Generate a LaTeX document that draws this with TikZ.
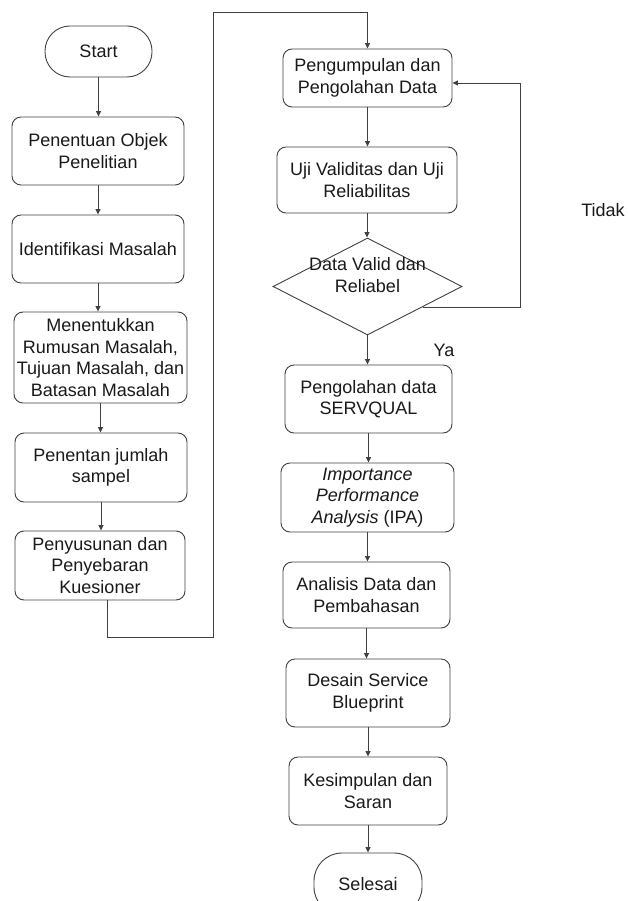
\documentclass[tikz,border=0pt]{standalone}
\usepackage{fontspec}
\setmainfont{Liberation Sans}
\usetikzlibrary{shapes.geometric,arrows.meta,calc}
\newcommand\flowfont{\fontsize{18}{21.5}\selectfont}
\begin{document}
\begin{tikzpicture}[x=1pt,y=-1pt,
  line/.style={draw=black!75, line width=0.9pt},
  arr/.style={line, -{Triangle[length=5.5pt,width=5pt]}},
  box/.style={line, rounded corners=9pt, align=center, inner sep=0pt, font=\flowfont, text=black!90},
  term/.style={box, rounded corners=25pt},
  lbl/.style={font=\flowfont, text=black!90, inner sep=0pt, align=center}]
\useasboundingbox (0,0) rectangle (627,901);
\clip (0,0) rectangle (627,901);
% left column
\node[term, minimum width=107pt, minimum height=51pt] (start) at (98.5,51.5) {Start};
\node[box, minimum width=172pt, minimum height=68pt] (b1) at (98,151) {Penentuan Objek\\Penelitian};
\node[box, minimum width=172pt, minimum height=68pt] (b2) at (98,249) {Identifikasi Masalah};
\node[box, minimum width=173pt, minimum height=91pt] (b3) at (100.5,357.5) {Menentukkan\\Rumusan Masalah,\\Tujuan Masalah, dan\\Batasan Masalah};
\node[box, minimum width=172pt, minimum height=69pt] (b4) at (101,467.5) {Penentan jumlah\\sampel};
\node[box, minimum width=170pt, minimum height=69pt] (b5) at (100,565.5) {Penyusunan dan\\Penyebaran\\Kuesioner};
% right column
\node[box, minimum width=169pt, minimum height=58pt] (r1) at (367.5,78) {Pengumpulan dan\\Pengolahan Data};
\node[box, minimum width=180pt, minimum height=66pt] (r2) at (367,180) {Uji Validitas dan Uji\\Reliabilitas};
\node[diamond, line, minimum width=189pt, minimum height=97pt, inner sep=0pt] (dia) at (367.5,286.5) {};
\node[lbl] (diatxt) at (367.5,275) {Data Valid dan\\Reliabel};
\node[box, minimum width=167pt, minimum height=68pt] (r3) at (368.5,399) {Pengolahan data\\SERVQUAL};
\node[box, minimum width=173pt, minimum height=69pt] (r4) at (367.5,497.5) {\textit{Importance}\\\textit{Performance}\\\textit{Analysis} (IPA)};
\node[box, minimum width=167pt, minimum height=66pt] (r5) at (366.5,595) {Analisis Data dan\\Pembahasan};
\node[box, minimum width=164pt, minimum height=68pt] (r6) at (368,693) {Desain Service\\Blueprint};
\node[box, minimum width=158pt, minimum height=68pt] (r7) at (368,791) {Kesimpulan dan\\Saran};
\node[term, rounded corners=28pt, minimum width=108pt, minimum height=62pt] (end) at (368,884) {\raisebox{-4pt}{Selesai}};
% labels
\node[lbl] (tidak) at (603,210) {Tidak};
\node[lbl] (ya) at (444,350) {Ya};
% left arrows
\draw[arr] (start.south) -- (start.south |- b1.north);
\draw[arr] (b1.south) -- (b1.south |- b2.north);
\draw[arr] (b2.south) -- (b2.south |- b3.north);
\draw[arr] (b3.south) -- (b3.south |- b4.north);
\draw[arr] (b4.south) -- (b4.south |- b5.north);
% jump to right column
\coordinate (jd) at (107,637);
\coordinate (ju) at (213,12);
\draw[arr] (jd |- b5.south) -- (jd) -| (ju) -| (r1.north);
% right arrows
\draw[arr] (r1.south) -- (r1.south |- r2.north);
\draw[arr] (r2.south) -- (r2.south |- dia.north);
\draw[arr] (dia.south) -- (dia.south |- r3.north);
\draw[arr] (r3.south) -- (r3.south |- r4.north);
\draw[arr] (r4.south) -- (r4.south |- r5.north);
\draw[arr] (r5.south) -- (r5.south |- r6.north);
\draw[arr] (r6.south) -- (r6.south |- r7.north);
\draw[arr] (r7.south) -- (r7.south |- end.north);
% feedback loop
\coordinate (fb) at ($(dia.east)!0.42!(dia.south)$);
\coordinate (fr) at (520,83);
\draw[arr] (fb) -| (fr) -- (r1.east |- fr);
\end{tikzpicture}
\end{document}
